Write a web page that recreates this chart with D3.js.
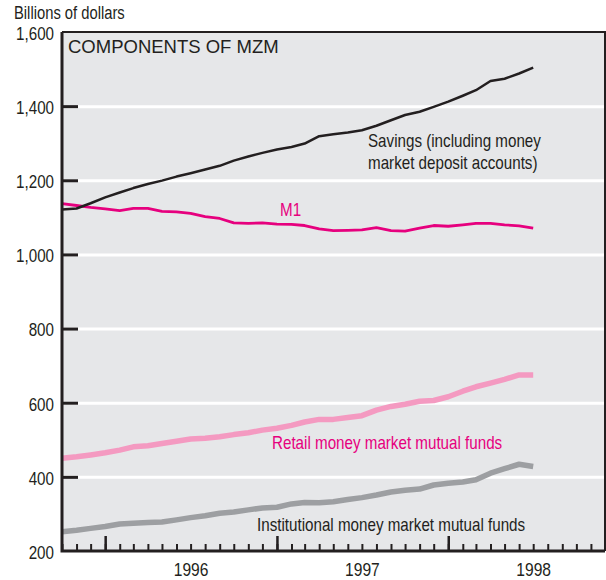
<!DOCTYPE html>
<html>
<head>
<meta charset="utf-8">
<script src="https://cdn.jsdelivr.net/npm/d3@7"></script>
<style>
  body { margin: 0; background: #fff; }
  svg text { font-family: "Liberation Sans", Arial, sans-serif; fill: #231f20; }
</style>
</head>
<body>
<div id="chart"></div>
<script>
// monthly, Oct 1995 .. Jul 1998 (billions of dollars)
var months = d3.timeMonth.range(new Date(1995, 9, 1), new Date(1998, 7, 1));

var savings = [1121, 1124, 1138, 1154, 1167, 1179, 1190, 1199, 1210, 1219, 1229, 1239,
  1253, 1264, 1274, 1283, 1290, 1299, 1319, 1324, 1329, 1335, 1347, 1362,
  1376, 1385, 1398, 1412, 1428, 1443, 1468, 1474, 1488, 1504];
var m1 = [1137, 1132, 1127, 1123, 1118, 1124, 1124, 1116, 1115, 1111, 1102, 1097,
  1085, 1084, 1085, 1082, 1081, 1078, 1069, 1064, 1065, 1066, 1072, 1064,
  1063, 1071, 1078, 1076, 1080, 1084, 1084, 1080, 1077, 1071];
var retail = [450, 454, 459, 465, 472, 481, 484, 490, 496, 502, 504, 508,
  514, 519, 526, 531, 539, 548, 555, 555, 560, 565, 580, 590,
  596, 604, 606, 616, 631, 643, 653, 663, 675, 675];
var institutional = [252, 256, 261, 266, 273, 275, 277, 278, 284, 290, 295, 302,
  305, 311, 316, 318, 327, 331, 330, 333, 339, 344, 351, 359,
  364, 367, 378, 383, 386, 392, 410, 422, 434, 428];

var yTicks = [200, 400, 600, 800, 1000, 1200, 1400, 1600];
var yearLabels = [1996, 1997, 1998];

var width = 606, height = 580;
var m = { left: 62, right: 605, top: 32, bottom: 551 };

var svg = d3.select("#chart").append("svg")
  .attr("width", width)
  .attr("height", height);

var x = d3.scaleTime()
  .domain([new Date(1995, 9, 1), new Date(1998, 11, 1)])
  .range([m.left, m.right]);

var y = d3.scaleLinear()
  .domain([200, 1600])
  .range([m.bottom, m.top]);

// plot background
svg.append("rect")
  .attr("x", m.left).attr("y", m.top)
  .attr("width", m.right - m.left).attr("height", m.bottom - m.top)
  .attr("fill", "#e6e7e9");

// white gridlines
svg.append("g")
  .attr("transform", "translate(" + m.left + ",0)")
  .call(d3.axisLeft(y).tickValues(yTicks.slice(1, -1)).tickSize(-(m.right - m.left)).tickFormat(""))
  .call(g => g.select(".domain").remove())
  .call(g => g.selectAll("line").attr("stroke", "#fff").attr("stroke-width", 3));

var line = d3.line()
  .x((d, i) => x(months[i]))
  .y(d => y(d));

var series = [
  { values: institutional, color: "#9d9fa2", w: 5.5 },
  { values: retail, color: "#f49ac1", w: 5.5 },
  { values: m1, color: "#e6007e", w: 2.8 },
  { values: savings, color: "#231f20", w: 2.5 }
];

svg.selectAll("path.series")
  .data(series)
  .enter()
  .append("path")
  .attr("class", "series")
  .attr("d", d => line(d.values))
  .attr("fill", "none")
  .attr("stroke", d => d.color)
  .attr("stroke-width", d => d.w)
  .attr("stroke-linejoin", "round");

// y axis with inward ticks
svg.append("g")
  .attr("class", "narrow")
  .attr("transform", "translate(" + m.left + ",0)")
  .call(d3.axisLeft(y).tickValues(yTicks).tickSize(-16).tickPadding(8).tickFormat(d3.format(",")))
  .call(g => g.select(".domain").remove())
  .call(g => g.selectAll("line").attr("stroke", "#231f20").attr("stroke-width", 3))
  .call(g => g.selectAll("text").attr("font-size", 18.5).attr("dy", "0.4em")
    .attr("font-family", null).attr("fill", "#231f20"))
  .call(g => g.selectAll(".tick").filter(d => d === 200 || d === 1600).select("line").remove());

// x axis: monthly minor ticks, yearly major ticks
svg.append("g")
  .attr("transform", "translate(0," + m.bottom + ")")
  .call(d3.axisBottom(x).ticks(d3.timeMonth.every(1)).tickSize(-7).tickFormat(""))
  .call(g => g.select(".domain").remove())
  .call(g => g.selectAll("line").attr("stroke", "#231f20").attr("stroke-width", 2));

svg.append("g")
  .attr("transform", "translate(0," + m.bottom + ")")
  .call(d3.axisBottom(x).ticks(d3.timeYear.every(1)).tickSize(-15).tickFormat(""))
  .call(g => g.select(".domain").remove())
  .call(g => g.selectAll("line").attr("stroke", "#231f20").attr("stroke-width", 2.5));

svg.append("g")
  .attr("class", "narrow")
  .attr("transform", "translate(0," + m.bottom + ")")
  .call(d3.axisBottom(x).tickValues(yearLabels.map(yr => new Date(yr, 6, 1))).tickSize(0).tickPadding(12).tickFormat(d3.timeFormat("%Y")))
  .call(g => g.select(".domain").remove())
  .call(g => g.selectAll("text").attr("font-size", 19).attr("font-family", null).attr("fill", "#231f20"));

// frame
svg.append("path")
  .attr("d", "M" + m.left + "," + m.top + "H" + m.right + "V" + m.bottom)
  .attr("fill", "none").attr("stroke", "#231f20").attr("stroke-width", 2);
svg.append("path")
  .attr("d", "M" + m.left + "," + m.top + "V" + m.bottom + "H" + m.right)
  .attr("fill", "none").attr("stroke", "#231f20").attr("stroke-width", 3);

// titles and annotations
var notes = svg.append("g").attr("class", "narrow");
notes.append("text").attr("x", 14).attr("y", 19).attr("font-size", 18).text("Billions of dollars");
notes.append("text").attr("x", 368).attr("y", 147).attr("font-size", 18.5).attr("fill", "#333").text("Savings (including money");
notes.append("text").attr("x", 368).attr("y", 169).attr("font-size", 18.5).attr("fill", "#333").text("market deposit accounts)");
notes.append("text").attr("x", 280).attr("y", 216).attr("font-size", 18.5).style("fill", "#e6007e").text("M1");
notes.append("text").attr("x", 272).attr("y", 449).attr("font-size", 18.5).style("fill", "#e6007e").text("Retail money market mutual funds");
notes.append("text").attr("x", 257).attr("y", 531).attr("font-size", 18.5).text("Institutional money market mutual funds");

svg.append("text").attr("x", 68).attr("y", 53).attr("font-size", 18.5).text("COMPONENTS OF MZM");

// squeeze the Arial-like font to look like a narrow face
svg.selectAll(".narrow text").each(function () {
  var len = this.getComputedTextLength();
  d3.select(this).attr("textLength", len * 0.82).attr("lengthAdjust", "spacingAndGlyphs");
});
</script>
</body>
</html>
